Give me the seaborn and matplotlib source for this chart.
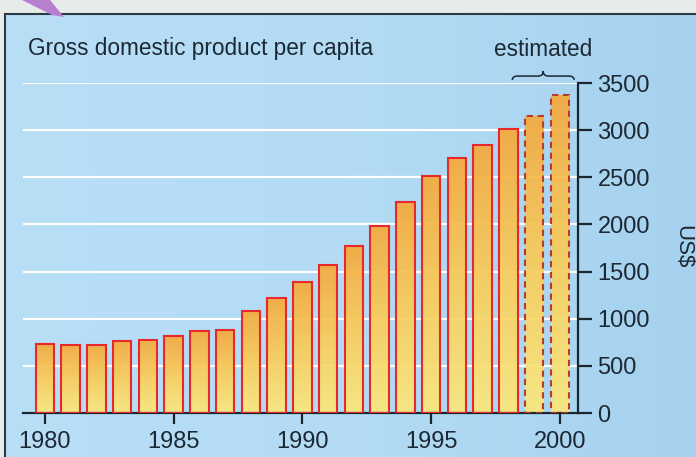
import numpy as np
import matplotlib
matplotlib.use("Agg")
import matplotlib.pyplot as plt
from matplotlib.path import Path
from matplotlib.patches import PathPatch, Polygon
from matplotlib.colors import LinearSegmentedColormap
import matplotlib.transforms as mtransforms
import seaborn as sns

# data (US$ per capita)
years = list(range(1980, 2001))
gdp = [730, 723, 720, 765, 776, 815, 868, 878, 1083, 1220, 1386, 1566,
       1775, 1986, 2236, 2515, 2706, 2843, 3016, 3145, 3375]
estimated = [1999, 2000]
tick_years = [1980, 1985, 1990, 1995, 2000]
y_ticks = [0, 500, 1000, 1500, 2000, 2500, 3000, 3500]

sns.set_theme(style="white")
plt.rcParams["font.family"] = ["Liberation Sans", "DejaVu Sans"]
txt = "#1c2833"

W, H = 696, 457
fig = plt.figure(figsize=(W / 100, H / 100), dpi=100)
fig.patch.set_facecolor("#e7ebea")

# blue panel behind the chart
bg = fig.add_axes([5 / W, 0, 1 - 5 / W, 1 - 14 / H], zorder=0)
blue = LinearSegmentedColormap.from_list("bl", ["#b9dff7", "#b3dbf4", "#a6d2ef"])
bg.imshow(np.linspace(0, 1, 256).reshape(1, -1), cmap=blue, aspect="auto",
          extent=(0, 1, 0, 1))
bg.set_xticks([])
bg.set_yticks([])
for s in ["right", "bottom"]:
    bg.spines[s].set_visible(False)
for s in ["top", "left"]:
    bg.spines[s].set_color("#2c3a44")
    bg.spines[s].set_linewidth(1.5)

# purple arrow tip at top left
fig.patches.append(Polygon([(22 / W, 1), (50 / W, 1), (64 / W, 1 - 17 / H), (52 / W, 1 - 15 / H)],
                           closed=True, transform=fig.transFigure, facecolor="#b77fd0",
                           edgecolor="none", zorder=5))

ax = fig.add_axes([23 / W, (H - 413) / H, 555 / W, 330 / H], zorder=1)
ax.set_facecolor("none")

sns.barplot(x=years, y=gdp, width=0.72, color="#f7b040", ax=ax,
            saturation=1, edgecolor="#e8282a", linewidth=1.5)

grad = LinearSegmentedColormap.from_list("or", ["#fbe87c", "#f9cc5a", "#f5a93c"])
for yr, bar in zip(years, ax.patches):
    x0, y0 = bar.get_x(), bar.get_y()
    w, h = bar.get_width(), bar.get_height()
    im = ax.imshow(np.linspace(0, 1, 128).reshape(-1, 1), cmap=grad, origin="lower",
                   aspect="auto", extent=(x0, x0 + w, y0, y0 + h), alpha=0.93, zorder=1)
    im.set_clip_path(bar)
    bar.set_facecolor("none")
    bar.set_zorder(3)
    if yr in estimated:
        bar.set_linestyle((0, (3, 2.2)))
        bar.set_edgecolor("#b83a2c")

ax.set_xlim(-0.85, 20.7)
ax.set_ylim(0, 3500)

ax.set_yticks(y_ticks)
ax.yaxis.tick_right()
ax.set_xticks([years.index(y) for y in tick_years])
ax.set_xticklabels([str(y) for y in tick_years])
ax.grid(axis="y", color="white", linewidth=1.6)
ax.grid(axis="x", visible=False)
ax.set_axisbelow(True)

for s in ["left", "top"]:
    ax.spines[s].set_visible(False)
for s in ["right", "bottom"]:
    ax.spines[s].set_color("#1a2530")
    ax.spines[s].set_linewidth(1.6)

ax.tick_params(axis="y", right=True, left=False, length=10, width=1.6, pad=4,
               color="#1a2530", labelsize=17, labelcolor=txt)
ax.tick_params(axis="x", bottom=True, length=8, width=1.6, pad=5,
               color="#1a2530", labelsize=17, labelcolor=txt)
ax.set_xlabel("")
ax.set_ylabel("")

fig.text(683 / W, 1 - 247 / H, "US$", rotation=270, ha="center", va="center",
         fontsize=16, color=txt)
fig.text(28 / W, 1 - 49 / H, "Gross domestic product per capita", ha="left",
         va="center", fontsize=16.3, color=txt)
fig.text(543 / W, 1 - 49 / H, "estimated", ha="center", va="center",
         fontsize=16.3, color=txt)

# curly brace over the estimated bars
xl, xr = 18.15, 20.55
xm = (xl + xr) / 2
y0, y1, y2 = 1.009, 1.021, 1.036
verts = [(xl, y0), (xl, y1), (xl + 0.2, y1), (xm - 0.2, y1), (xm, y1), (xm, y2),
         (xm, y1), (xm + 0.2, y1), (xr - 0.2, y1), (xr, y1), (xr, y0)]
codes = [Path.MOVETO, Path.CURVE3, Path.CURVE3, Path.LINETO, Path.CURVE3, Path.CURVE3,
         Path.CURVE3, Path.CURVE3, Path.LINETO, Path.CURVE3, Path.CURVE3]
trans = mtransforms.blended_transform_factory(ax.transData, ax.transAxes)
ax.add_patch(PathPatch(Path(verts, codes), transform=trans, facecolor="none",
                       edgecolor=txt, linewidth=1.1, clip_on=False))

fig.savefig("out.png", dpi=100)
